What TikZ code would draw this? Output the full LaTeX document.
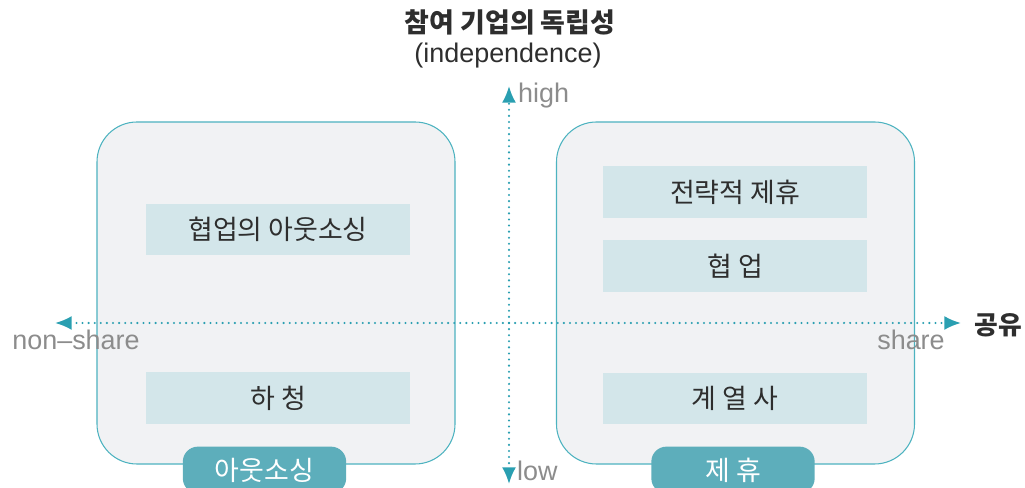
\documentclass[tikz,border=0pt]{standalone}
\usepackage{fontspec}
\setmainfont{Noto Sans CJK KR}
\newfontfamily\latinfont{Liberation Sans}
\usetikzlibrary{arrows.meta}
\definecolor{boxfill}{HTML}{F1F2F4}
\definecolor{boxline}{HTML}{4DB3C0}
\definecolor{itemfill}{HTML}{D3E6EA}
\definecolor{tagfill}{HTML}{5DAEBB}
\definecolor{axiscol}{HTML}{2A9FB1}
\definecolor{axistext}{HTML}{8C8C8C}
\definecolor{darktext}{HTML}{2E2E2E}
\tikzset{
  group/.style={draw=boxline, line width=0.9pt, fill=boxfill, rounded corners=1.2cm,
    minimum width=10.74cm, minimum height=10.26cm},
  item/.style={fill=itemfill, minimum width=7.92cm, minimum height=1.55cm,
    text=darktext, font=\fontsize{23}{26}\selectfont},
  tag/.style={fill=tagfill, rounded corners=0.45cm, minimum width=4.9cm,
    minimum height=1.4cm, text=white, font=\fontsize{23}{26}\selectfont},
  axis/.style={axiscol, line width=2pt, dash pattern=on 0pt off 5.2pt, line cap=round,
    -{Latex[length=0.5cm, width=0.42cm, line cap=butt]}},
  axislabel/.style={text=axistext, font=\latinfont\fontsize{23}{26}\selectfont, inner sep=0pt}
}
\begin{document}
\begin{tikzpicture}[x=0.03cm, y=-0.03cm]
  \useasboundingbox (0,0) rectangle (1025,488);
  \clip (0,0) rectangle (1025,488);
  % quadrant groups
  \node[group] (outsrc) at (276, 293) {};
  \node[group] (allian) at (735.5, 293) {};
  % items
  \node[item] (coop) at (278, 229.5) {협업의 아웃소싱};
  \node[item] (subc) at (278, 398) {하 청};
  \node[item] (strat) at (735, 192) {전략적 제휴};
  \node[item] (collab) at (735, 266) {협 업};
  \node[item] (affil) at (735, 398.5) {계 열 사};
  % tags
  \node[tag] (outtag) at (264.5, 470) {아웃소싱};
  \node[tag] (alltag) at (733, 470) {제 휴};
  % axes
  \coordinate (top) at (509, 86);
  \coordinate (bot) at (509, 484);
  \coordinate (lft) at (55, 323);
  \coordinate (rgt) at (961, 323);
  \coordinate (mid) at (509, 323);
  \draw[axis] (mid) -- (top);
  \draw[axis] (mid) -- (bot);
  \draw[axis] (mid) -- (lft);
  \draw[axis] (mid) -- (rgt);
  \node[axislabel, anchor=west] (high) at (518, 96) {high};
  \node[axislabel, anchor=west] (low) at (517, 471) {low};
  \node[axislabel] (nonsh) at (76, 340) {non–share};
  \node[axislabel] (share) at (911, 340) {share};
  \node[text=darktext, font=\bfseries\fontsize{22}{24}\selectfont] (shlabel) at (998, 325) {공유};
  % title
  \node[text=darktext, font=\bfseries\fontsize{23}{26}\selectfont] (title) at (510, 22) {참여 기업의 독립성};
  \node[text=darktext, font=\latinfont\fontsize{23}{26}\selectfont] (subt) at (508, 56) {(independence)};
\end{tikzpicture}
\end{document}
